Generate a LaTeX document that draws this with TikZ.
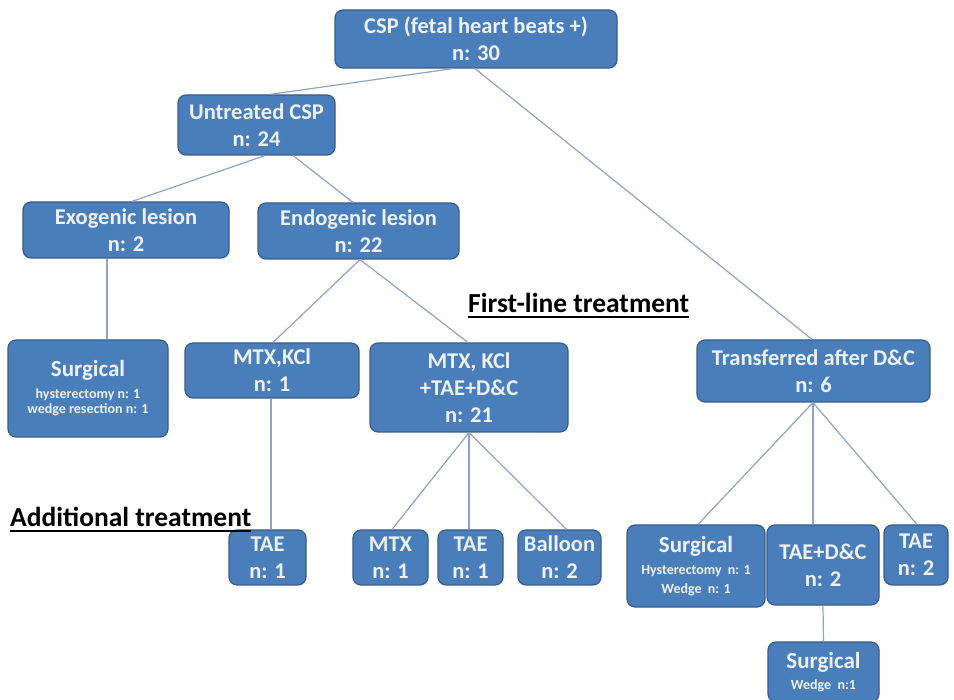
\documentclass[tikz,border=0pt]{standalone}
\usepackage{fontspec}
\setmainfont{Carlito}
\definecolor{boxfill}{HTML}{4A7EBB}
\definecolor{boxline}{HTML}{385D8A}
\definecolor{boxtext}{HTML}{EEF2FA}
\definecolor{linkcol}{HTML}{8FA3C8}
\newcommand{\bigtx}{\fontsize{23}{27}\selectfont}
\newcommand{\smtx}{\fontsize{14}{15}\selectfont}
\begin{document}
\begin{tikzpicture}[x=1pt,y=-1pt,
  box/.style={draw=boxline, line width=1.2pt, fill=boxfill, rounded corners=8pt,
    text=boxtext, align=center, inner sep=0pt,
    font=\bfseries\fontsize{22.5}{27}\selectfont},
  link/.style={draw=linkcol, line width=1.2pt},
  uline/.style={draw=black, line width=1.8pt},
  heading/.style={font=\bfseries\fontsize{27.5}{30}\selectfont, text=black, inner sep=0pt}]
\useasboundingbox (0,0) rectangle (954,700);
\fill[white] (0,0) rectangle (954,700);

\node[box, minimum width=282, minimum height=58] (csp) at (476,39) {CSP (fetal heart beats +)\\n: 30};
\node[box, minimum width=157, minimum height=60] (unt) at (256.5,125) {Untreated CSP\\n: 24};
\node[box, minimum width=206, minimum height=56] (exo) at (126,230) {Exogenic lesion\\n: 2};
\node[box, minimum width=201, minimum height=56] (endo) at (358.5,231) {Endogenic lesion\\n: 22};
\node[box, minimum width=160, minimum height=97] (surgL) at (88,388.5)
  {\bigtx Surgical\\[-5pt]\smtx hysterectomy n: 1\\[-12pt]\smtx wedge resection n: 1};
\node[box, minimum width=174, minimum height=55] (mk1) at (272,370.5) {MTX,KCl\\n: 1};
\node[box, minimum width=198, minimum height=89] (mk21) at (469,387.5) {MTX, KCl\\+TAE+D\&C\\n: 21};
\node[box, minimum width=233, minimum height=62] (trans) at (813.5,371) {Transferred after D\&C\\n: 6};
\node[box, minimum width=77, minimum height=55] (taeL) at (267.5,557.5) {TAE\\n: 1};
\node[box, minimum width=75, minimum height=55] (mtx) at (390.5,557.5) {MTX\\n: 1};
\node[box, minimum width=65, minimum height=55] (tae1) at (470.5,557.5) {TAE\\n: 1};
\node[box, minimum width=83, minimum height=55] (bal) at (559.5,557.5) {Balloon\\n: 2};
\node[box, minimum width=138, minimum height=82] (surgR) at (696,566)
  {\bigtx Surgical\\[-5pt]\smtx Hysterectomy~ n: 1\\[-8pt]\smtx Wedge~ n: 1};
\node[box, minimum width=112, minimum height=80] (taedc) at (823,565) {TAE+D\&C\\n: 2};
\node[box, minimum width=64, minimum height=60] (tae2) at (916,555) {TAE\\n: 2};
\node[box, minimum width=111, minimum height=60] (surgB) at (823.5,672)
  {\bigtx Surgical\\[-6pt]\smtx Wedge~ n:1};

\node[heading, anchor=base west] (first) at (468,313) {First-line treatment};
\node[heading, anchor=base west] (addl) at (10,527) {Additional treatment};
\draw[uline] ([yshift=-4pt]first.base west) -- ([yshift=-4pt]first.base east);
\draw[uline] ([yshift=-4pt]addl.base west) -- ([yshift=-4pt]addl.base east);

\draw[link] ([xshift=-23]csp.south) -- ([xshift=13.5]unt.north);
\draw[link] ([xshift=-1]csp.south) -- ([xshift=-1.5]trans.north);
\draw[link] ([xshift=8.5]unt.south) -- ([xshift=6]exo.north);
\draw[link] ([xshift=36.5]unt.south) -- ([xshift=-5.5]endo.north);
\draw[link] ([xshift=-19]exo.south) -- ([xshift=19]surgL.north);
\draw[link] ([xshift=1.5]endo.south) -- ([xshift=1]mk1.north);
\draw[link] ([xshift=1.5]endo.south) -- ([xshift=-1]mk21.north);
\draw[link] ([xshift=-1]mk1.south) -- ([xshift=3.5]taeL.north);
\draw[link] (mk21.south) -- ([xshift=1.5]mtx.north);
\draw[link] (mk21.south) -- ([xshift=-1.5]tae1.north);
\draw[link] (mk21.south) -- ([xshift=7]bal.north);
\draw[link] ([xshift=-0.5]trans.south) -- ([xshift=2]surgR.north);
\draw[link] ([xshift=-0.5]trans.south) -- ([xshift=-10]taedc.north);
\draw[link] ([xshift=-0.5]trans.south) -- ([xshift=1]tae2.north);
\draw[link] (taedc.south) -- (surgB.north);
\end{tikzpicture}
\end{document}
